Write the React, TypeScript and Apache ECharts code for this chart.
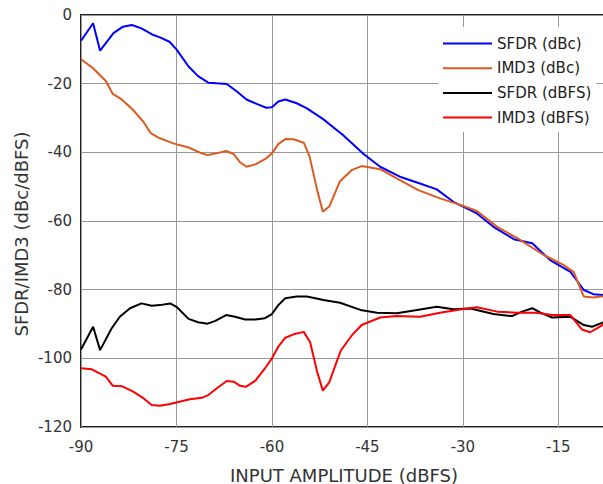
import React, { useEffect, useRef } from "react";
import * as echarts from "echarts";

const xTicks = { min: -90, max: -5, interval: 15 };
const yTicks = { min: -120, max: 0, interval: 20 };

const sfdrDbcX = [-90, -88.1, -87, -84.9, -83.4, -82, -80.5, -78.9, -77.6, -76.1, -75, -73.1, -71.6, -70, -68.7, -67.1, -65.5, -64, -62.4, -60.9, -60, -59, -57.9, -56.1, -54.5, -51.9, -49.3, -48.8, -45.6, -43, -39.9, -37.2, -34.1, -31.5, -27.8, -25.2, -22, -19.1, -16.3, -13.1, -11, -9.5, -7.6];
const sfdrDbcY = [-7.5, -2.4, -10.4, -5.3, -3.4, -2.9, -3.9, -5.6, -6.5, -7.8, -10, -15, -17.8, -19.7, -19.9, -20.1, -22.3, -24.6, -25.9, -27, -26.9, -25.2, -24.6, -25.7, -27.2, -30.4, -34.3, -35, -40.5, -44.2, -47.1, -48.8, -50.8, -54.4, -57.8, -61.7, -65.3, -66.5, -71.4, -74.8, -80.1, -81.3, -81.6];

const imd3DbcX = [-90, -88.1, -86.1, -85, -83.6, -81.8, -80.2, -79, -77.6, -75.5, -73.1, -71.3, -70.1, -68.7, -67.2, -66, -65, -64, -62.6, -61.1, -60, -59, -57.9, -56.6, -55, -54.1, -52.9, -52, -51, -49.3, -47.4, -45.9, -43, -40.4, -37, -33.6, -30.4, -27.8, -24.6, -21.2, -17.3, -14.2, -12.6, -11, -9.5, -7.6];
const imd3DbcY = [-12.9, -15.5, -19.2, -23, -24.6, -27.7, -31.1, -34.5, -35.9, -37.4, -38.6, -40.1, -40.8, -40.3, -39.6, -40.5, -42.9, -44.2, -43.5, -42, -40.3, -37.6, -36.1, -36.2, -37.2, -41.1, -51, -57.3, -55.8, -48.4, -45.1, -44, -44.9, -47.6, -51, -53.4, -55.3, -57.1, -61.7, -65.3, -69.9, -72.8, -74.8, -82, -82.3, -81.8];

const sfdrDbfsX = [-90, -88.1, -87, -85.2, -83.9, -82.3, -80.5, -78.9, -77.6, -76, -75, -73.1, -71.6, -70.1, -68.9, -67.2, -65.8, -64.2, -62.6, -61.1, -60, -59, -57.9, -56.1, -54.5, -51.9, -49.3, -46.1, -43.5, -40.4, -37.2, -34.1, -31.5, -28.8, -25.2, -22.3, -20.7, -19.1, -17.8, -16, -13.1, -11, -9.7, -7.6];
const sfdrDbfsY = [-97.4, -90.8, -97.6, -91.3, -87.9, -85.4, -84, -84.7, -84.5, -84, -85, -88.5, -89.5, -89.9, -89.1, -87.4, -87.9, -88.7, -88.7, -88.3, -87.1, -84.5, -82.5, -82, -82, -83, -83.8, -85.9, -86.7, -86.9, -85.9, -85, -85.7, -85.5, -87.1, -87.7, -86.4, -85.4, -86.7, -88.1, -87.9, -90.3, -90.8, -89.3];

const imd3DbfsX = [-90, -88.3, -86.1, -85, -83.6, -81.8, -80.2, -78.9, -77.6, -76, -74.4, -72.9, -71, -70, -68.7, -67.1, -66, -65, -64.1, -62.6, -61.1, -60, -59, -57.9, -56.6, -55, -54, -52.9, -52, -51, -49.2, -47.4, -45.9, -43, -40.4, -36.7, -33.6, -29.9, -27.8, -24.6, -21.5, -18.4, -16, -13.1, -11.3, -10, -7.6];
const imd3DbfsY = [-102.9, -103.2, -105.3, -108, -108.1, -109.7, -111.6, -113.6, -113.8, -113.3, -112.6, -111.9, -111.5, -110.7, -108.8, -106.6, -106.8, -108, -108.3, -106.5, -102.9, -100, -96.6, -94, -93, -92.3, -95.3, -103.9, -109.4, -107, -97.8, -93.2, -90.3, -88.1, -87.7, -87.9, -86.7, -85.6, -85.1, -86.4, -86.7, -86.7, -87.4, -87.4, -91.6, -92.4, -89.8];

const seriesNames = ["SFDR (dBc)", "IMD3 (dBc)", "SFDR (dBFS)", "IMD3 (dBFS)"];
const seriesColors = ["#0000ff", "#dd5a1e", "#000000", "#ff0000"];

const xTitle = "INPUT AMPLITUDE (dBFS)";
const yTitle = "SFDR/IMD3 (dBc/dBFS)";

const FONT = "'DejaVu Sans', sans-serif";

function pairs(xs: number[], ys: number[]) {
  return xs.map((x, i) => [x, ys[i]]);
}

export default function App() {
  const ref = useRef<HTMLDivElement>(null);
  useEffect(() => {
    if (!ref.current) return;
    const chart = echarts.init(ref.current, undefined, { renderer: "svg" });
    const datasets = [
      pairs(sfdrDbcX, sfdrDbcY),
      pairs(imd3DbcX, imd3DbcY),
      pairs(sfdrDbfsX, sfdrDbfsY),
      pairs(imd3DbfsX, imd3DbfsY),
    ];
    chart.setOption({
      animation: false,
      backgroundColor: "#ffffff",
      grid: {
        left: 81,
        top: 15,
        width: 541,
        height: 412,
        containLabel: false,
        outerBoundsMode: "none",
        show: true,
        borderColor: "#222",
        borderWidth: 2,
        backgroundColor: "transparent",
      },
      xAxis: {
        type: "value",
        min: xTicks.min,
        max: xTicks.max,
        interval: xTicks.interval,
        axisLine: { show: false },
        axisTick: { show: false },
        axisLabel: { color: "#333", fontSize: 15, fontFamily: FONT, margin: 12, showMaxLabel: false },
        splitLine: { show: true, lineStyle: { color: "#999", width: 1 } },
      },
      yAxis: {
        type: "value",
        min: yTicks.min,
        max: yTicks.max,
        interval: yTicks.interval,
        axisLine: { show: false },
        axisTick: { show: false },
        axisLabel: { color: "#333", fontSize: 15, fontFamily: FONT, margin: 9 },
        splitLine: { show: true, lineStyle: { color: "#999", width: 1 } },
      },
      legend: {
        orient: "vertical",
        left: 438,
        top: 27,
        align: "left",
        padding: [9, 5, 7, 5],
        backgroundColor: "#ffffff",
        icon: "rect",
        itemWidth: 49,
        itemHeight: 2,
        itemGap: 9.7,
        textStyle: { color: "#222", fontSize: 15, fontFamily: FONT, lineHeight: 15 },
        data: seriesNames,
      },
      series: datasets.map((d, i) => ({
        name: seriesNames[i],
        type: "line",
        data: d,
        symbol: "none",
        showSymbol: false,
        color: seriesColors[i],
        itemStyle: { color: seriesColors[i] },
        lineStyle: { color: seriesColors[i], width: 2 },
      })),
      graphic: [
        {
          type: "text",
          x: 344,
          y: 475,
          style: {
            text: xTitle,
            fill: "#333",
            fontSize: 18,
            fontFamily: FONT,
            align: "center",
            verticalAlign: "middle",
          },
        },
        {
          type: "text",
          x: 21,
          y: 234,
          rotation: Math.PI / 2,
          style: {
            text: yTitle,
            fill: "#333",
            fontSize: 18,
            fontFamily: FONT,
            align: "center",
            verticalAlign: "middle",
          },
        },
      ],
    });
    return () => chart.dispose();
  }, []);
  return <div ref={ref} style={{ width: 603, height: 484, position: "absolute", left: 0, top: 0 }} />;
}
